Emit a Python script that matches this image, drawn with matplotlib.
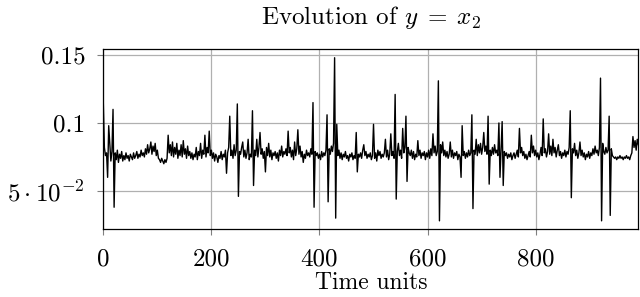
import matplotlib
matplotlib.use('Agg')
import matplotlib.pyplot as plt
import numpy as np

step = 2
y_vals = [
    0.115, 0.082, 0.076, 0.078, 0.060, 0.098, 0.085, 0.072, 0.079, 0.110, 0.038, 0.078, 0.073, 0.080, 0.071, 0.077, 0.074, 0.079, 0.072, 0.076,
    0.073, 0.078, 0.074, 0.076, 0.072, 0.077, 0.075, 0.073, 0.078, 0.074, 0.076, 0.079, 0.074, 0.077, 0.075, 0.080, 0.076, 0.078, 0.075, 0.081,
    0.077, 0.084, 0.078, 0.081, 0.086, 0.077, 0.083, 0.079, 0.085, 0.076, 0.080, 0.074, 0.073, 0.071, 0.074, 0.072, 0.070, 0.073, 0.071, 0.074,
    0.091, 0.078, 0.084, 0.076, 0.086, 0.075, 0.082, 0.077, 0.085, 0.074, 0.080, 0.076, 0.084, 0.075, 0.087, 0.077, 0.081, 0.074, 0.083, 0.076,
    0.079, 0.074, 0.078, 0.073, 0.077, 0.075, 0.082, 0.073, 0.079, 0.076, 0.085, 0.074, 0.080, 0.077, 0.091, 0.075, 0.082, 0.078, 0.094, 0.076,
    0.080, 0.074, 0.078, 0.072, 0.077, 0.075, 0.071, 0.076, 0.074, 0.079, 0.073, 0.077, 0.075, 0.080, 0.063, 0.078, 0.082, 0.105, 0.076, 0.080,
    0.074, 0.084, 0.076, 0.080, 0.114, 0.046, 0.079, 0.077, 0.082, 0.086, 0.075, 0.080, 0.074, 0.078, 0.088, 0.073, 0.077, 0.075, 0.109, 0.054,
    0.080, 0.076, 0.088, 0.075, 0.082, 0.093, 0.077, 0.081, 0.074, 0.079, 0.064, 0.082, 0.076, 0.085, 0.075, 0.080, 0.073, 0.078, 0.076, 0.079,
    0.074, 0.078, 0.072, 0.080, 0.076, 0.083, 0.075, 0.079, 0.077, 0.081, 0.076, 0.094, 0.078, 0.082, 0.075, 0.080, 0.073, 0.086, 0.076, 0.081,
    0.095, 0.077, 0.083, 0.075, 0.079, 0.071, 0.077, 0.074, 0.080, 0.076, 0.078, 0.075, 0.081, 0.077, 0.115, 0.038, 0.079, 0.076, 0.078, 0.074,
    0.077, 0.073, 0.079, 0.075, 0.078, 0.076, 0.080, 0.106, 0.042, 0.081, 0.077, 0.083, 0.079, 0.085, 0.148, 0.030, 0.099, 0.076, 0.080, 0.074,
    0.078, 0.073, 0.077, 0.075, 0.079, 0.074, 0.076, 0.072, 0.077, 0.075, 0.078, 0.073, 0.076, 0.074, 0.093, 0.064, 0.077, 0.075, 0.078, 0.074,
    0.080, 0.084, 0.076, 0.079, 0.074, 0.077, 0.075, 0.078, 0.073, 0.076, 0.099, 0.074, 0.078, 0.072, 0.080, 0.076, 0.079, 0.074, 0.077, 0.075,
    0.078, 0.088, 0.075, 0.080, 0.073, 0.077, 0.092, 0.076, 0.079, 0.074, 0.121, 0.044, 0.079, 0.085, 0.076, 0.080, 0.074, 0.096, 0.078, 0.082,
    0.105, 0.057, 0.082, 0.078, 0.076, 0.080, 0.074, 0.079, 0.073, 0.077, 0.075, 0.087, 0.076, 0.080, 0.074, 0.078, 0.076, 0.079, 0.073, 0.078,
    0.075, 0.080, 0.074, 0.081, 0.076, 0.092, 0.078, 0.083, 0.076, 0.079, 0.131, 0.028, 0.084, 0.078, 0.086, 0.076, 0.080, 0.075, 0.079, 0.074,
    0.077, 0.086, 0.075, 0.080, 0.074, 0.078, 0.076, 0.079, 0.073, 0.077, 0.075, 0.060, 0.098, 0.076, 0.079, 0.074, 0.078, 0.075, 0.080, 0.076,
    0.078, 0.106, 0.037, 0.080, 0.077, 0.088, 0.076, 0.084, 0.078, 0.085, 0.077, 0.082, 0.093, 0.079, 0.083, 0.077, 0.105, 0.055, 0.080, 0.076,
    0.082, 0.077, 0.084, 0.078, 0.080, 0.076, 0.100, 0.060, 0.081, 0.101, 0.054, 0.079, 0.076, 0.078, 0.074, 0.077, 0.075, 0.078, 0.073, 0.076,
    0.078, 0.074, 0.077, 0.080, 0.075, 0.096, 0.078, 0.082, 0.076, 0.079, 0.074, 0.077, 0.073, 0.076, 0.079, 0.075, 0.091, 0.078, 0.083, 0.076,
    0.080, 0.075, 0.078, 0.073, 0.077, 0.082, 0.076, 0.103, 0.078, 0.081, 0.075, 0.079, 0.092, 0.077, 0.083, 0.076, 0.088, 0.078, 0.082, 0.075,
    0.080, 0.084, 0.076, 0.079, 0.074, 0.078, 0.076, 0.080, 0.075, 0.079, 0.077, 0.082, 0.109, 0.045, 0.081, 0.078, 0.085, 0.076, 0.080, 0.074,
    0.078, 0.086, 0.076, 0.080, 0.075, 0.078, 0.073, 0.077, 0.075, 0.079, 0.074, 0.078, 0.076, 0.081, 0.077, 0.083, 0.078, 0.080, 0.076, 0.082,
    0.133, 0.028, 0.085, 0.079, 0.077, 0.082, 0.078, 0.080, 0.105, 0.032, 0.081, 0.076, 0.075, 0.074, 0.075, 0.073, 0.075, 0.074, 0.076, 0.074,
    0.075, 0.073, 0.075, 0.074, 0.076, 0.074, 0.075, 0.073, 0.076, 0.078, 0.090, 0.082, 0.087, 0.080, 0.088, 0.084,
]
t = np.arange(len(y_vals)) * step

x_ticks = [0, 200, 400, 600, 800]
y_ticks = [0.05, 0.1, 0.15]
y_labels = [r'$5\cdot10^{-2}$', '0.1', '0.15']

plt.rcParams['font.family'] = 'serif'
plt.rcParams['font.serif'] = ['cmr10', 'DejaVu Serif']
plt.rcParams['mathtext.fontset'] = 'cm'
plt.rcParams['axes.formatter.use_mathtext'] = True

fig = plt.figure(figsize=(6.4, 2.97), dpi=100)
ax = fig.add_axes([0.1614, 0.229, 0.836, 0.605])
ax.plot(t, y_vals, color='black', lw=1.0)
ax.set_xlim(0, 990)
ax.set_ylim(0.022, 0.1542)
ax.set_xticks(x_ticks)
ax.set_xticklabels([str(v) for v in x_ticks])
ax.set_yticks(y_ticks)
ax.set_yticklabels(y_labels)
ax.tick_params(labelsize=18, length=4, color='#808080', direction='out')
ax.tick_params(axis='x', pad=10)
ax.tick_params(axis='y', pad=9)
ax.grid(True, color='#b0b0b0', lw=0.9)
ax.set_axisbelow(True)
for s in ax.spines.values():
    s.set_linewidth(0.9)
ax.set_xlabel('Time units', fontsize=17, labelpad=1)
ax.set_title(r'Evolution of $y\;=\;x_2$', fontsize=18, pad=18)
fig.savefig('out.png', dpi=100)
